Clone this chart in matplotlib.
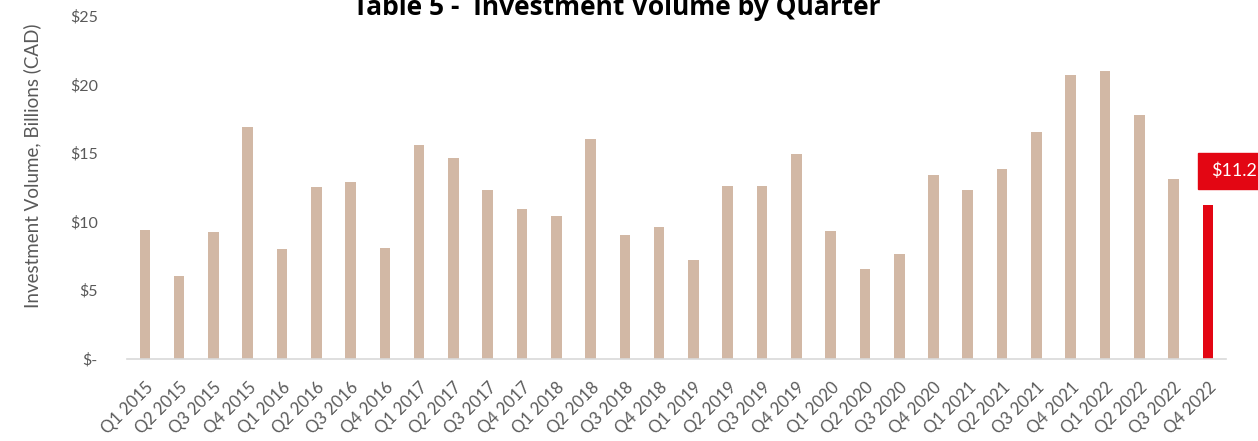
import matplotlib
matplotlib.use("Agg")
import matplotlib.pyplot as plt
from matplotlib.patches import Rectangle

quarters = ["Q1 2015", "Q2 2015", "Q3 2015", "Q4 2015",
            "Q1 2016", "Q2 2016", "Q3 2016", "Q4 2016",
            "Q1 2017", "Q2 2017", "Q3 2017", "Q4 2017",
            "Q1 2018", "Q2 2018", "Q3 2018", "Q4 2018",
            "Q1 2019", "Q2 2019", "Q3 2019", "Q4 2019",
            "Q1 2020", "Q2 2020", "Q3 2020", "Q4 2020",
            "Q1 2021", "Q2 2021", "Q3 2021", "Q4 2021",
            "Q1 2022", "Q2 2022", "Q3 2022", "Q4 2022"]
volumes = [9.4, 6.0, 9.2, 16.9,
           8.0, 12.5, 12.9, 8.1,
           15.6, 14.6, 12.3, 10.9,
           10.4, 16.0, 9.0, 9.6,
           7.2, 12.6, 12.6, 14.9,
           9.3, 6.5, 7.6, 13.4,
           12.3, 13.8, 16.5, 20.7,
           21.0, 17.8, 13.1, 11.2]
y_ticks = [0, 5, 10, 15, 20, 25]
y_tick_labels = ["$-", "$5", "$10", "$15", "$20", "$25"]
title = "Table 5 -  Investment Volume by Quarter"
y_label = "Investment Volume, Billions (CAD)"
callout = "$11.2"

TAN = "#D2B8A5"
RED = "#E30613"
GREY = "#595959"

W, H = 1258, 441
fig = plt.figure(figsize=(W / 100, H / 100), dpi=100)
ax = fig.add_axes([127 / W, 1 - 358.5 / H, (1226 - 127) / W, (358.5 - 16) / H])

x = list(range(len(quarters)))
colors = [TAN] * (len(quarters) - 1) + [RED]
ax.bar(x, volumes, width=0.31, color=colors, zorder=2)

ax.set_xlim(-0.52, len(quarters) - 0.47)
ax.set_ylim(0, 25)
ax.set_yticks(y_ticks)
ax.set_yticklabels(y_tick_labels, family="Lato", fontsize=11.5, color=GREY)
ax.set_xticks(x)
ax.set_xticklabels(quarters, rotation=45, ha="right", rotation_mode="anchor",
                   family="Lato", fontsize=12, color=GREY)
ax.tick_params(axis="both", length=0)
ax.tick_params(axis="y", pad=21)
ax.tick_params(axis="x", pad=15)
for s in ["top", "right", "left"]:
    ax.spines[s].set_visible(False)
ax.spines["bottom"].set_color("#D9D9D9")
ax.spines["bottom"].set_linewidth(1.2)

fig.text(32 / W, 1 - 166 / H, y_label, rotation=90, ha="center", va="center",
         family="Lato", fontsize=13.5, color=GREY)

fig.text(617 / W, 1 - 15 / H, title, ha="center", va="baseline",
         family="Open Sans", fontweight="bold", fontsize=19, color="black")

fig.patches.append(Rectangle((1198 / W, 1 - 189 / H), 80 / W, 36 / H,
                             transform=fig.transFigure, color=RED, zorder=3))
fig.text(1211 / W, 1 - 171 / H, callout, ha="left", va="center",
         family="Lato", fontsize=13, color="white", zorder=4)

fig.savefig("out.png", dpi=100)
